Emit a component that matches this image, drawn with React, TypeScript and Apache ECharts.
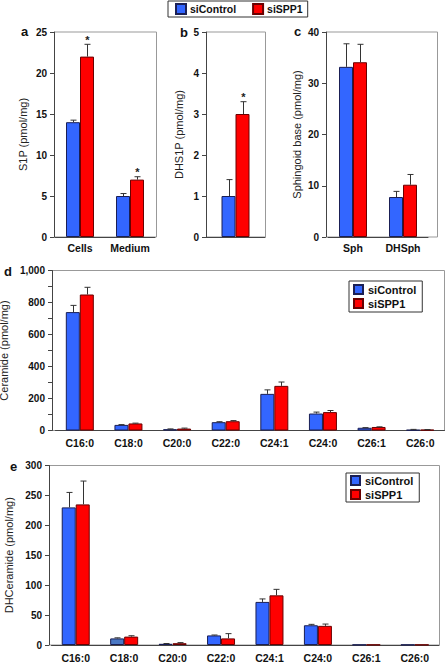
import React, { useEffect, useRef } from 'react';
import * as echarts from 'echarts';

const FONT = '"Liberation Sans", Arial, Helvetica, sans-serif';
const BLUE = '#3366ff';
const RED = '#ff0000';
const BLUE_EDGE = '#1a1f55';
const RED_EDGE = '#6a0000';

// ---- data ----
const seriesNames = ['siControl', 'siSPP1'];

const aCategories = ['Cells', 'Medium'];
const aControl = [14, 5];
const aControlErr = [0.25, 0.3];
const aSPP1 = [22, 7];
const aSPP1Err = [1.5, 0.35];
const aSPP1Star = [1, 1];
const aTicks = [0, 25, 5];

const bCategories = [''];
const bControl = [1];
const bControlErr = [0.4];
const bSPP1 = [3];
const bSPP1Err = [0.3];
const bSPP1Star = [1];
const bTicks = [0, 5, 1];

const cCategories = ['Sph', 'DHSph'];
const cControl = [33.2, 7.8];
const cControlErr = [4.5, 1.1];
const cSPP1 = [34.1, 10.2];
const cSPP1Err = [3.5, 2.0];
const cTicks = [0, 40, 10];

const dCategories = ['C16:0', 'C18:0', 'C20:0', 'C22:0', 'C24:1', 'C24:0', 'C26:1', 'C26:0'];
const dControl = [740, 35, 8, 52, 229, 106, 17, 4];
const dControlErr = [42, 2, 2, 3, 25, 9, 1, 3];
const dSPP1 = [850, 44, 12, 58, 279, 115, 22, 5];
const dSPP1Err = [45, 2, 3, 4, 24, 10, 1, 1];
const dTicks = [0, 1000, 100];

const eCategories = ['C16:0', 'C18:0', 'C20:0', 'C22:0', 'C24:1', 'C24:0', 'C26:1', 'C26:0'];
const eControl = [230, 11, 2, 16, 72, 33, 0.5, 0.5];
const eControlErr = [25, 1, 0.5, 0.7, 5, 1.5, 0, 0];
const eSPP1 = [235, 14, 3, 11, 83, 32, 0.5, 0.5];
const eSPP1Err = [39, 1.5, 1, 8, 10, 3, 0, 0];
const eTicks = [0, 300, 50];

const BW = 14;

function makeRender(dx: number) {
  return (params: any, api: any) => {
    const i = api.value(0);
    const v = api.value(1);
    const e = api.value(2);
    const s = api.value(3);
    const base = api.coord([i, v]);
    const top = api.coord([i, v + e]);
    const x = Math.round(base[0] + dx) + 0.5;
    const children: any[] = [];
    if (e > 0) {
      children.push({ type: 'line', shape: { x1: x, y1: base[1], x2: x, y2: top[1] }, style: { stroke: '#333', lineWidth: 1 } });
      children.push({ type: 'line', shape: { x1: x - 3, y1: top[1], x2: x + 3, y2: top[1] }, style: { stroke: '#333', lineWidth: 1 } });
    }
    if (s) {
      children.push({
        type: 'text', x, y: top[1] + 1,
        style: { text: '*', font: `bold 11px ${FONT}`, fill: '#222', align: 'center', verticalAlign: 'bottom', textAlign: 'center', textVerticalAlign: 'bottom' },
      });
    }
    return { type: 'group', children };
  };
}

interface PanelCfg {
  left: number; top: number; width: number; height: number; offset: number;
  categories: string[]; ticks: number[];
  control: number[]; controlErr: number[]; spp1: number[]; spp1Err: number[];
  spp1Star?: number[];
  yName: string; nameGap: number; labelEvery?: number; catMargin: number;
  steelIdx?: number;
}

function buildPanel(idx: number, c: PanelCfg) {
  const grid = { left: c.left, top: c.top, width: c.width, height: c.height, show: false, containLabel: false, outerBoundsMode: 'none' };
  const xAxis = {
    type: 'category', gridIndex: idx, data: c.categories,
    axisLine: { lineStyle: { color: '#444', width: 1 } },
    axisTick: { show: false },
    axisLabel: { color: '#111', fontWeight: 'bold', fontSize: 10.5, fontFamily: FONT, margin: c.catMargin, interval: 0 },
  };
  const yAxis = {
    type: 'value', gridIndex: idx, min: c.ticks[0], max: c.ticks[1], interval: c.ticks[2], offset: c.offset,
    name: c.yName, nameLocation: 'middle', nameGap: c.nameGap,
    nameTextStyle: { fontSize: 11, color: '#222', fontFamily: FONT },
    axisLine: { show: true, lineStyle: { color: '#444', width: 1 } },
    axisTick: { show: true, inside: false, length: 4, lineStyle: { color: '#444' } },
    splitLine: { show: false },
    axisLabel: {
      color: '#111', fontWeight: 'bold', fontSize: 10, fontFamily: FONT, margin: 7,
      formatter: (v: number) => (c.labelEvery && v % c.labelEvery !== 0 ? '' : v.toLocaleString('en-US')),
    },
  };
  const ctrlData = c.control.map((v, i) =>
    c.steelIdx === i ? { value: v, itemStyle: { color: '#4a78c4' } } : v);
  const series: any[] = [
    {
      type: 'bar', name: seriesNames[0], xAxisIndex: idx, yAxisIndex: idx, data: ctrlData,
      barWidth: BW, barGap: '0%', itemStyle: { color: BLUE, borderColor: BLUE_EDGE, borderWidth: 1 }, z: 2,
    },
    {
      type: 'bar', name: seriesNames[1], xAxisIndex: idx, yAxisIndex: idx, data: c.spp1,
      barWidth: BW, barGap: '0%', itemStyle: { color: RED, borderColor: RED_EDGE, borderWidth: 1 }, z: 2,
    },
    {
      type: 'custom', name: 'errControl' + idx, xAxisIndex: idx, yAxisIndex: idx, silent: true, z: 3,
      encode: { x: 0, y: 1 },
      data: c.control.map((v, i) => [i, v, c.controlErr[i], 0]),
      renderItem: makeRender(-BW / 2),
    },
    {
      type: 'custom', name: 'errSPP1' + idx, xAxisIndex: idx, yAxisIndex: idx, silent: true, z: 3,
      encode: { x: 0, y: 1 },
      data: c.spp1.map((v, i) => [i, v, c.spp1Err[i], c.spp1Star ? c.spp1Star[i] : 0]),
      renderItem: makeRender(BW / 2),
    },
  ];
  return { grid, xAxis, yAxis, series };
}

const panels: PanelCfg[] = [
  { left: 55, top: 32, width: 100, height: 205, offset: 1, categories: aCategories, ticks: aTicks,
    control: aControl, controlErr: aControlErr, spp1: aSPP1, spp1Err: aSPP1Err, spp1Star: aSPP1Star,
    yName: 'S1P (pmol/mg)', nameGap: 26, catMargin: 5 },
  { left: 206, top: 32, width: 59, height: 205, offset: 0, categories: bCategories, ticks: bTicks,
    control: bControl, controlErr: bControlErr, spp1: bSPP1, spp1Err: bSPP1Err, spp1Star: bSPP1Star,
    yName: 'DHS1P (pmol/mg)', nameGap: 22, catMargin: 5 },
  { left: 328, top: 32, width: 100, height: 205, offset: 2, categories: cCategories, ticks: cTicks,
    control: cControl, controlErr: cControlErr, spp1: cSPP1, spp1Err: cSPP1Err,
    yName: 'Sphingoid base (pmol/mg)', nameGap: 24, catMargin: 5 },
  { left: 55.5, top: 270.5, width: 389, height: 160, offset: 3.5, categories: dCategories, ticks: dTicks,
    control: dControl, controlErr: dControlErr, spp1: dSPP1, spp1Err: dSPP1Err,
    yName: 'Ceramide (pmol/mg)', nameGap: 36, labelEvery: 200, catMargin: 7 },
  { left: 51.5, top: 465.5, width: 387.5, height: 179.5, offset: 2.5, categories: eCategories, ticks: eTicks,
    control: eControl, controlErr: eControlErr, spp1: eSPP1, spp1Err: eSPP1Err,
    yName: 'DHCeramide (pmol/mg)', nameGap: 33, catMargin: 7, steelIdx: 1 },
];

// boxes: [x1, y1, x2, y2]
const boxes = [
  [54, 32, 156, 237],
  [206, 32, 265, 237],
  [326, 32, 437, 237],
  [52, 270.5, 444, 430.5],
  [49, 465.5, 439, 645],
];

const letters = [
  { t: 'a', x: 21, y: 31 },
  { t: 'b', x: 180, y: 32 },
  { t: 'c', x: 294, y: 31 },
  { t: 'd', x: 4, y: 271 },
  { t: 'e', x: 10, y: 466 },
];

function buildOption() {
  const built = panels.map((p, i) => buildPanel(i, p));
  const legendCommon = {
    data: seriesNames, icon: 'rect', borderColor: '#333', borderWidth: 1, borderRadius: 0,
    backgroundColor: '#fff', selectedMode: false,
  };
  return {
    animation: false,
    backgroundColor: '#fff',
    textStyle: { fontFamily: FONT },
    grid: built.map(b => b.grid),
    xAxis: built.map(b => b.xAxis),
    yAxis: built.map(b => b.yAxis),
    series: built.flatMap(b => b.series),
    legend: [
      { ...legendCommon, orient: 'horizontal', left: 168, top: 1, itemWidth: 10, itemHeight: 10, itemGap: 16,
        padding: [2, 5, 2, 7], textStyle: { fontSize: 10.5, fontWeight: 'bold', color: '#111', fontFamily: FONT, padding: [0, 0, 0, -1] } },
      { ...legendCommon, orient: 'vertical', left: 349, top: 281, itemWidth: 9, itemHeight: 9, itemGap: 3,
        padding: [3, 6, 3, 4], textStyle: { fontSize: 11, fontWeight: 'bold', color: '#111', fontFamily: FONT } },
      { ...legendCommon, orient: 'vertical', left: 346, top: 473, itemWidth: 9, itemHeight: 9, itemGap: 3,
        padding: [2, 6, 2, 4], textStyle: { fontSize: 11, fontWeight: 'bold', color: '#111', fontFamily: FONT } },
    ],
    graphic: [
      ...boxes.map(b => ({
        type: 'rect', z: 0, silent: true,
        shape: { x: b[0] + 0.5, y: b[1], width: b[2] - b[0], height: b[3] - b[1] },
        style: { fill: 'none', stroke: '#999', lineWidth: 1 },
      })),
      ...letters.map(l => ({
        type: 'text', x: l.x, y: l.y, z: 10, silent: true,
        style: { text: l.t, font: `bold 13px ${FONT}`, fill: '#111', align: 'left', verticalAlign: 'middle', textAlign: 'left', textVerticalAlign: 'middle' },
      })),
    ],
  };
}

export default function App() {
  const ref = useRef<HTMLDivElement>(null);
  useEffect(() => {
    if (!ref.current) return;
    const chart = echarts.init(ref.current, undefined, { renderer: 'svg' });
    chart.setOption(buildOption() as any);
    return () => chart.dispose();
  }, []);
  return (
    <div
      ref={ref}
      style={{ position: 'fixed', left: 0, top: 0, width: 445, height: 662, background: '#fff' }}
    />
  );
}
